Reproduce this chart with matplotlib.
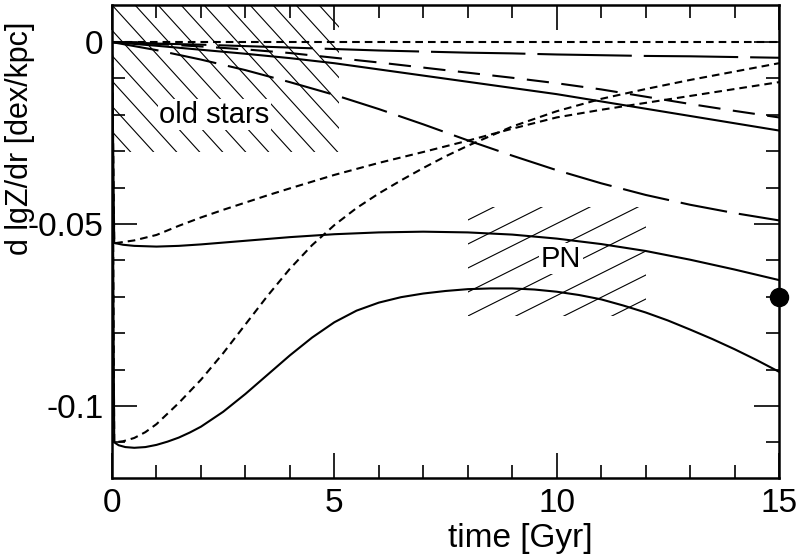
import numpy as np
import matplotlib
matplotlib.use('Agg')
import matplotlib.pyplot as plt
from matplotlib.patches import Rectangle

plt.rcParams['font.family'] = ['Liberation Sans', 'DejaVu Sans']
plt.rcParams['lines.scale_dashes'] = False

# gradient evolution d lgZ/dr [dex/kpc] vs time [Gyr]
t_flat = [0, 15]
g_flat = [0, 0]

t_a = [0, 1, 2, 3, 4, 5, 6, 7, 8, 9, 10, 11, 12, 13, 14, 15]
g_a = [0, -0.0004, -0.0007, -0.0011, -0.0015, -0.0019, -0.0023, -0.0026,
       -0.0029, -0.0031, -0.0034, -0.0036, -0.0038, -0.0039, -0.0041, -0.0043]

t_b = [0, 1, 2, 3, 4, 5, 6, 7, 8, 9, 10, 11, 12, 13, 14, 15]
g_b = [0, -0.0005, -0.0012, -0.0020, -0.0030, -0.0043, -0.0056, -0.0070,
       -0.0084, -0.0098, -0.0113, -0.0130, -0.0150, -0.0170, -0.0189, -0.0207]

t_c = [0, 1, 2, 3, 4, 5, 6, 7, 8, 9, 10, 11, 12, 13, 14, 15]
g_c = [0, -0.0022, -0.0048, -0.0077, -0.0110, -0.0145, -0.0184, -0.0226,
       -0.0270, -0.0312, -0.0352, -0.0388, -0.0420, -0.0447, -0.0470, -0.0490]

t_d = [0, 0.5, 1, 2, 3, 4, 5, 6, 7, 8, 9, 10, 11, 12, 13, 14, 15]
g_d = [0, -0.0005, -0.0010, -0.0021, -0.0032, -0.0044, -0.0058, -0.0075, -0.0092,
       -0.0109, -0.0126, -0.0143, -0.0163, -0.0183, -0.0203, -0.0223, -0.0243]

t_e1 = [0, 0.05, 0.5, 1, 1.5, 2, 2.5, 3, 3.5, 4, 5, 6, 7, 8, 9, 10, 11, 12, 13, 14, 15]
g_e1 = [0, -0.0553, -0.0545, -0.0530, -0.0505, -0.0482, -0.0461, -0.0441, -0.0421,
        -0.0402, -0.0365, -0.0332, -0.0302, -0.0271, -0.0238, -0.0207, -0.0186,
        -0.0167, -0.0148, -0.0129, -0.0110]

t_e2 = [0, 0.05, 0.25, 0.5, 0.75, 1, 1.5, 2, 2.5, 3, 3.5, 4, 4.5, 5, 5.5, 6, 6.5,
        7, 7.5, 8, 9, 10, 11, 12, 13, 14, 15]
g_e2 = [0, -0.1100, -0.1097, -0.1088, -0.1072, -0.1050, -0.0992, -0.0928, -0.0855,
        -0.0776, -0.0697, -0.0623, -0.0558, -0.0503, -0.0456, -0.0416, -0.0380,
        -0.0346, -0.0314, -0.0285, -0.0232, -0.0190, -0.0156, -0.0129, -0.0104,
        -0.0081, -0.0058]

t_f1 = [0, 0.05, 0.25, 0.5, 1, 1.5, 2, 3, 4, 5, 6, 7, 8, 9, 10, 11, 12, 13, 14, 15]
g_f1 = [0, -0.0552, -0.0557, -0.0560, -0.0562, -0.0560, -0.0556, -0.0546, -0.0536,
        -0.0528, -0.0523, -0.0521, -0.0523, -0.0529, -0.0540, -0.0555, -0.0574,
        -0.0598, -0.0625, -0.0654]

t_f2 = [0, 0.05, 0.15, 0.3, 0.5, 0.75, 1, 1.25, 1.5, 1.75, 2, 2.5, 3, 3.5, 4,
        4.5, 5, 5.5, 6, 6.5, 7, 7.5, 8, 8.5, 9, 9.5, 10, 10.5, 11, 11.5, 12,
        12.5, 13, 13.5, 14, 14.5, 15]
g_f2 = [0, -0.1100, -0.1108, -0.1113, -0.1115, -0.1113, -0.1107, -0.1098, -0.1087,
        -0.1073, -0.1057, -0.1016, -0.0967, -0.0914, -0.0861, -0.0812, -0.0770,
        -0.0738, -0.0716, -0.0701, -0.0691, -0.0684, -0.0679, -0.0677, -0.0677,
        -0.0680, -0.0686, -0.0695, -0.0707, -0.0724, -0.0743, -0.0765, -0.0790,
        -0.0816, -0.0844, -0.0874, -0.0906]

obs_t = [15]
obs_g = [-0.070]

# observed ranges (boxes)
old_box = [0, 5.1, -0.0302, 0.0102]
pn_box = [8.0, 12.0, -0.0753, -0.0453]

xticks = [0, 5, 10, 15]
yticks = [-0.1, -0.05, 0]
ytick_labels = ['-0.1', '-0.05', '0']

fig = plt.figure(figsize=(8.06, 5.59), dpi=100)
ax = fig.add_axes([112 / 806, 81 / 559, 667 / 806, 473 / 559])
ax.set_xlim(0, 15)
ax.set_ylim(-0.1198, 0.0102)

lw = 1.5
short = (0, (5.5, 3.6))
ax.plot(t_flat, g_flat, color='k', lw=lw, ls=short, zorder=3)
ax.plot(t_a, g_a, color='k', lw=lw, ls=(0, (68, 8.6)), zorder=3)
ax.plot(t_b, g_b, color='k', lw=lw, ls=(0, (16, 9)), zorder=3)
ax.plot(t_c, g_c, color='k', lw=lw, ls=(0, (34, 8.6)), zorder=3)
ax.plot(t_d, g_d, color='k', lw=lw, zorder=3)
ax.plot(t_e1, g_e1, color='k', lw=lw, ls=short, zorder=3)
ax.plot(t_e2, g_e2, color='k', lw=lw, ls=short, zorder=3)
ax.plot(t_f1, g_f1, color='k', lw=lw, zorder=3)
ax.plot(t_f2, g_f2, color='k', lw=lw, zorder=3)
ax.plot(obs_t, obs_g, 'o', color='k', ms=13, clip_on=False, zorder=5)


def hatch_box(box, slope_px, step_px, top_ref):
    x0, x1, y0, y1 = box
    pos = ax.get_position()
    W = pos.width * fig.get_figwidth() * fig.dpi
    H = pos.height * fig.get_figheight() * fig.dpi
    xl, yl = ax.get_xlim(), ax.get_ylim()
    sx = W / (xl[1] - xl[0])
    sy = H / (yl[1] - yl[0])
    slope = slope_px * sx / sy
    step = step_px / sx
    rect = Rectangle((x0, y0), x1 - x0, y1 - y0, fill=False, edgecolor='none')
    ax.add_patch(rect)
    yref = y1 if top_ref else y0
    reach = (y1 - y0) / abs(slope)
    n = int(np.ceil(reach / step)) + 1
    for k in range(-n, int(np.ceil((x1 - x0) / step)) + 1):
        c = x0 + k * step
        xs = np.array([x0 - reach, x1 + reach])
        ys = yref + slope * (xs - c)
        ln, = ax.plot(xs, ys, color='k', lw=0.8, zorder=1)
        ln.set_clip_path(rect)


hatch_box(old_box, -1.1, 23, True)
hatch_box(pn_box, 0.5, 48, False)

ax.text(2.3, -0.0200, 'old stars', fontsize=21, ha='center', va='center', zorder=2,
        bbox=dict(facecolor='white', edgecolor='none', pad=1))
ax.text(10.1, -0.0595, 'PN', fontsize=21, ha='center', va='center', zorder=2,
        bbox=dict(facecolor='white', edgecolor='none', pad=1))

ax.set_xticks(xticks)
ax.set_xticks(np.arange(0, 16, 1), minor=True)
ax.set_yticks(yticks)
ax.set_yticklabels(ytick_labels)
ax.set_yticks(np.arange(-0.11, 0.005, 0.01), minor=True)
ax.tick_params(which='both', direction='in', top=True, right=True, labelsize=24, width=1.2)
ax.tick_params(which='major', length=18)
ax.tick_params(which='minor', length=9.5)
ax.tick_params(axis='x', pad=7)
ax.tick_params(axis='y', pad=6)
for s in ax.spines.values():
    s.set_linewidth(1.8)

fig.text(20 / 806, 1 - 138 / 559, 'd lgZ/dr [dex/kpc]', rotation=90, fontsize=22,
         ha='center', va='center')
fig.text(520 / 806, 1 - 538 / 559, 'time [Gyr]', fontsize=24, ha='center', va='center')

fig.savefig('out.png', dpi=100, facecolor='white')
